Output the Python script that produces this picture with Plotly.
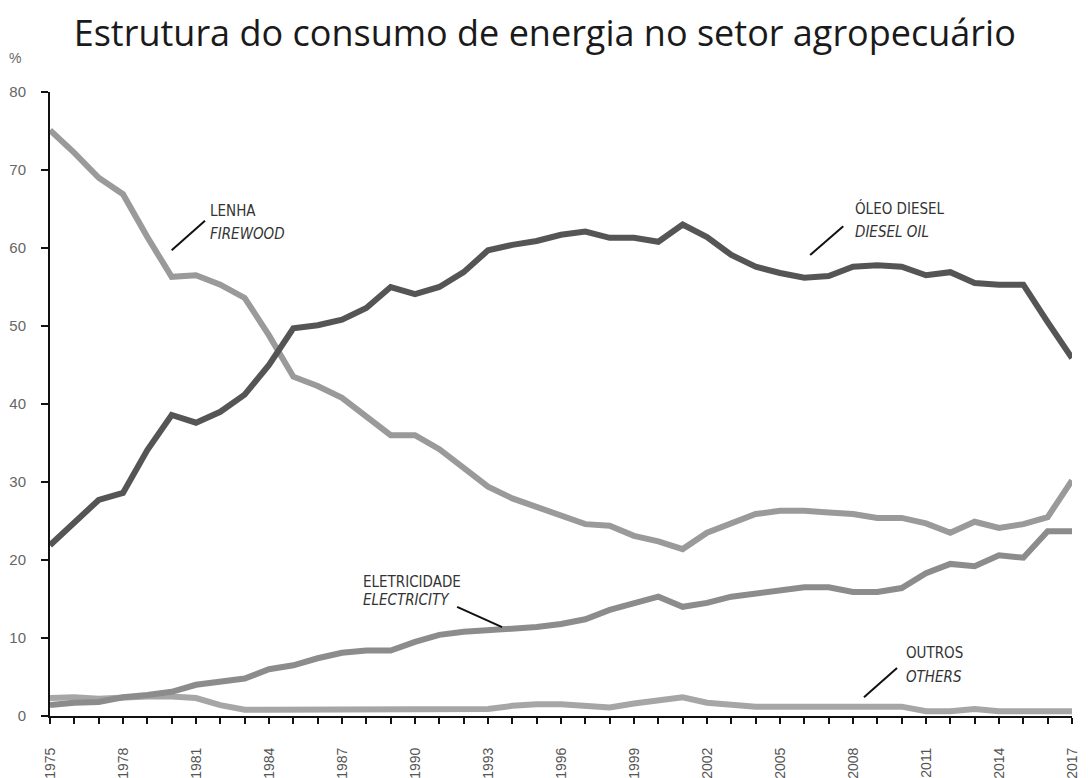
import plotly.graph_objects as go

years = list(range(1975, 2018))

diesel = [21.9, 24.7, 27.7, 28.6, 34.1, 38.6, 37.6, 39.0, 41.2, 45.0,
          49.7, 50.1, 50.8, 52.3, 55.0, 54.1, 55.0, 56.9, 59.7, 60.4,
          60.9, 61.7, 62.1, 61.3, 61.3, 60.8, 63.0, 61.4, 59.1, 57.6,
          56.8, 56.2, 56.4, 57.6, 57.8, 57.6, 56.5, 56.9, 55.5, 55.3,
          55.3, 50.5, 45.9]

firewood = [75.1, 72.2, 69.0, 66.9, 61.4, 56.3, 56.5, 55.3, 53.6, 48.8,
            43.5, 42.3, 40.8, 38.3, 36.0, 36.0, 34.2, 31.8, 29.4, 27.9,
            26.8, 25.6, 24.6, 24.4, 23.1, 22.4, 21.4, 23.5, 24.8, 25.9,
            26.3, 26.3, 26.1, 25.9, 25.4, 25.4, 24.7, 23.5, 24.9, 24.1,
            24.6, 25.5, 30.2]

electricity = [1.4, 1.7, 1.8, 2.4, 2.7, 3.1, 4.0, 4.4, 4.8, 6.0,
               6.5, 7.4, 8.1, 8.4, 8.4, 9.5, 10.4, 10.8, 11.0, 11.1,
               11.4, 11.8, 12.4, 13.6, 14.5, 15.3, 14.0, 14.5, 15.3, 15.7,
               16.2, 16.5, 16.5, 15.9, 15.9, 16.4, 18.3, 19.5, 19.2, 20.6,
               20.3, 23.7, 23.7]

others = [2.3, 2.4, 2.2, 2.4, 2.5, 2.5, 2.3, 1.4, 0.8, 0.8,
          0.8, 0.8, 0.8, 0.8, 0.8, 0.8, 0.8, 0.8, 0.9, 1.3,
          1.5, 1.5, 1.3, 1.1, 1.6, 2.0, 2.4, 1.7, 1.4, 1.2,
          1.2, 1.2, 1.2, 1.2, 1.2, 1.2, 0.6, 0.6, 0.9, 0.6,
          0.6, 0.6, 0.6]

series = [
    ("Outros", others, "#a6a6a6"),
    ("Eletricidade", electricity, "#8c8c8c"),
    ("Lenha", firewood, "#9a9a9a"),
    ("Óleo diesel", diesel, "#555555"),
]

tick_vals = years
tick_text = [str(y) if (y - 1975) % 3 == 0 else "" for y in years]

fig = go.Figure()
for name, vals, color in series:
    fig.add_trace(go.Scatter(
        x=years, y=vals, mode="lines", name=name,
        line=dict(color=color, width=6),
        cliponaxis=False, showlegend=False,
    ))

# labels: (line x0, y0, x1, y1), (text x, text y1, text y2), texts
labels = [
    ((1980.0, 59.7, 1981.37, 63.5), (1981.5, 64.7, 61.8), ("LENHA", "FIREWOOD")),
    ((2006.24, 59.1, 2007.6, 62.8), (2008.0, 65.1, 62.05), ("ÓLEO DIESEL", "DIESEL OIL")),
    ((1991.73, 14.0, 1993.58, 11.4), (1987.8, 17.2, 14.9), ("ELETRICIDADE", "ELECTRICITY")),
    ((2009.81, 6.15, 2008.45, 2.4), (2010.1, 8.1, 5.0), ("OUTROS", "OTHERS")),
]
lab_font = dict(family="DejaVu Sans Condensed, Liberation Sans Narrow, Arial", size=15, color="#333333")
for (x0, y0, x1, y1), (tx, ty1, ty2), (t1, t2) in labels:
    fig.add_shape(type="line", x0=x0, y0=y0, x1=x1, y1=y1, xref="x", yref="y",
                  line=dict(color="#111111", width=2))
    fig.add_annotation(x=tx, y=ty1, xref="x", yref="y", text=t1, showarrow=False,
                       xanchor="left", yanchor="middle", font=lab_font)
    fig.add_annotation(x=tx, y=ty2, xref="x", yref="y", text="<i>" + t2 + "</i>", showarrow=False,
                       xanchor="left", yanchor="middle", font=lab_font)

fig.add_annotation(xref="paper", yref="paper", x=-0.034, y=1.054, text="%", showarrow=False,
                   xanchor="center", yanchor="middle",
                   font=dict(family="Liberation Sans, Arial", size=14, color="#666666"))

# the page body has an 8px margin, so the figure is sized to fill the window from (8, 8)
fig.update_layout(
    width=1080, height=770,
    margin=dict(l=42, r=16, t=84, b=62, autoexpand=False),
    paper_bgcolor="white", plot_bgcolor="white",
    title=dict(text="Estrutura do consumo de energia no setor agropecuário",
               x=0.497, xanchor="center", y=0.967, yanchor="middle",
               font=dict(family="Open Sans, Noto Sans, Arial", size=36, color="#1a1a1a")),
    xaxis=dict(range=[1975, 2017], tickmode="array", tickvals=tick_vals, ticktext=tick_text,
               tickangle=-90, ticks="outside", ticklen=6, tickwidth=2, tickcolor="#111111",
               showline=True, linecolor="#111111", linewidth=2, showgrid=False, zeroline=False,
               automargin=False,
               tickfont=dict(family="Liberation Sans, Arial", size=14, color="#555555"),
               ticklabelstandoff=18),
    yaxis=dict(range=[0, 80], tickmode="array", tickvals=list(range(0, 81, 10)),
               ticks="outside", ticklen=7, tickwidth=2, tickcolor="#111111",
               showline=True, linecolor="#111111", linewidth=2, showgrid=False, zeroline=False,
               automargin=False,
               tickfont=dict(family="Liberation Sans, Arial", size=15, color="#666666"),
               ticklabelstandoff=12),
)

fig.write_html("out.html")
